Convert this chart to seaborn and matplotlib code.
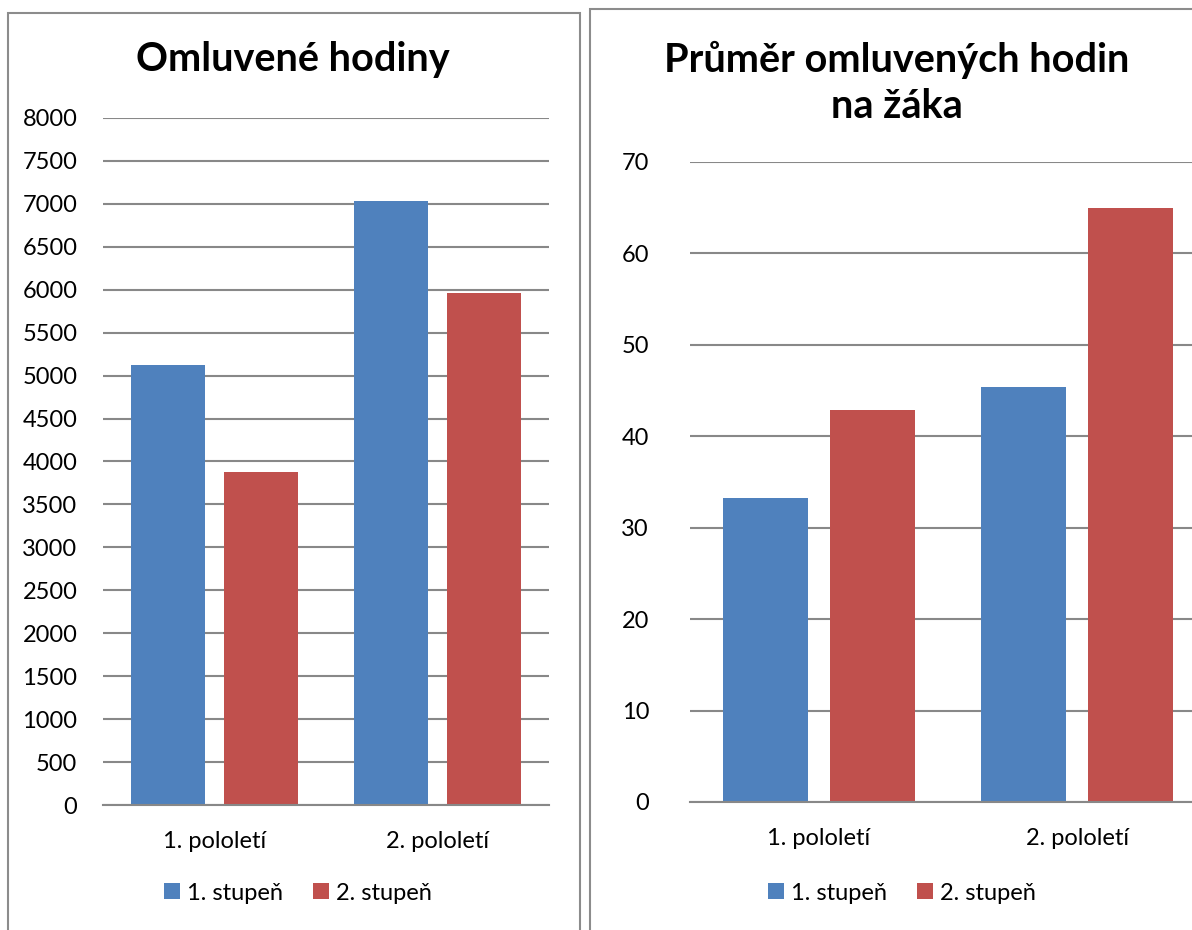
import matplotlib
matplotlib.use("Agg")
import matplotlib.pyplot as plt
from matplotlib.patches import Rectangle
import seaborn as sns
import pandas as pd

semesters = ["1. pololetí", "2. pololetí"]
levels = ["1. stupeň", "2. stupeň"]
hours_lvl1 = [5120, 7030]
hours_lvl2 = [3880, 5960]
avg_lvl1 = [33.3, 45.4]
avg_lvl2 = [42.9, 65.0]
left_ticks = list(range(0, 8001, 500))
right_ticks = list(range(0, 71, 10))
colors = ["#4F81BD", "#C0504D"]

def long_df(a, b):
    rows = []
    for i, s in enumerate(semesters):
        rows.append({"semester": s, "level": levels[0], "value": a[i]})
        rows.append({"semester": s, "level": levels[1], "value": b[i]})
    return pd.DataFrame(rows)

sns.set_theme(style="white")
FONT = ["Lato", "DejaVu Sans"]
plt.rcParams["font.family"] = FONT
plt.rcParams["text.color"] = "black"

fig = plt.figure(figsize=(11.92, 9.3), dpi=100)
W, H = 1192, 930

# panel borders
for (x0, y0, x1, y1) in [(8, 13, 580, 960), (590, 9, 1230, 960)]:
    fig.patches.append(Rectangle((x0 / W, 1 - y1 / H), (x1 - x0) / W, (y1 - y0) / H,
                                 transform=fig.transFigure, fill=False,
                                 edgecolor="#8c8c8c", linewidth=1.5, zorder=0))

axL = fig.add_axes([103 / W, 1 - 805 / H, 446 / W, 687 / H])
axR = fig.add_axes([690 / W, 1 - 802 / H, 516 / W, 640 / H])

def draw(ax, df, ticks, ymax, ypad, leg_x, leg_y):
    sns.barplot(data=df, x="semester", y="value", hue="level", palette=colors,
                width=0.83, gap=0.2, ax=ax, saturation=1, edgecolor="none",
                errorbar=None, legend=True)
    ax.set_xlim(-0.5, 1.5)
    ax.set_ylim(0, ymax)
    ax.set_yticks(ticks)
    ax.set_yticklabels([str(t) for t in ticks], fontsize=17, color="black")
    ax.set_xticks(range(len(semesters)))
    ax.set_xticklabels(semesters, fontsize=17, color="black")
    ax.tick_params(axis="both", length=0)
    ax.tick_params(axis="x", pad=19)
    ax.tick_params(axis="y", pad=ypad)
    ax.set_xlabel("")
    ax.set_ylabel("")
    ax.yaxis.grid(True, color="#888888", linewidth=1.5)
    ax.set_axisbelow(True)
    for s in ["top", "right", "left"]:
        ax.spines[s].set_visible(False)
    ax.spines["bottom"].set_color("#888888")
    ax.spines["bottom"].set_linewidth(1.5)
    handles, labels = ax.get_legend_handles_labels()
    ax.legend(handles, labels, loc="center", bbox_to_anchor=(leg_x, leg_y),
              bbox_transform=fig.transFigure, ncol=2, frameon=False,
              fontsize=17, handlelength=0.65, handleheight=0.65,
              handletextpad=0.3, columnspacing=1.3)
    return ax

draw(axL, long_df(hours_lvl1, hours_lvl2), left_ticks, 8000, 18.5, 298 / W, 1 - 893 / H)
draw(axR, long_df(avg_lvl1, avg_lvl2), right_ticks, 70, 29.5, 902 / W, 1 - 893 / H)

fig.text(293 / W, 1 - 60 / H, "Omluvené hodiny", ha="center", va="center",
         fontsize=28.5, fontweight="bold", family=FONT, color="black")
fig.text(897 / W, 1 - 83 / H, "Průměr omluvených hodin\nna žáka", ha="center",
         va="center", fontsize=28.5, fontweight="bold", family=FONT, color="black",
         linespacing=1.32)

fig.savefig("out.png", dpi=100)
